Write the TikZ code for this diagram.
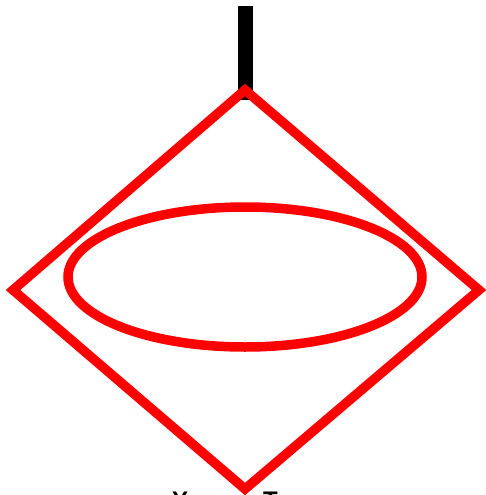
\documentclass[tikz,border=0pt]{standalone}
\usepackage{fontspec}
\setmainfont{Liberation Sans}
\usetikzlibrary{shapes.geometric}
\begin{document}
\begin{tikzpicture}[x=1pt,y=-1pt,
  redline/.style={draw=red,line width=9.5pt,line join=miter},
  stem/.style={draw=black,line width=15pt},
  lbl/.style={font=\bfseries\fontsize{24}{28}\selectfont,inner sep=0pt,anchor=north west}]
\useasboundingbox (0,0) rectangle (486,495);
\coordinate (top) at (245,90);
\coordinate (left) at (13,290);
\coordinate (bottom) at (245,489);
\coordinate (right) at (479,290);
\coordinate (stemtop) at (245,6);
\coordinate (stembot) at (245,100);
\draw[stem] (stemtop) -- (stembot);
\draw[redline] (top) -- (left) -- (bottom) -- (right) -- cycle;
\node[redline,ellipse,inner sep=0pt,minimum width=354pt,minimum height=140pt] (ell) at (245,277) {};
\node[lbl] (yes) at (172,491.5) {Yes};
\node[lbl] (no) at (263,491.5) {True};
\end{tikzpicture}
\end{document}
